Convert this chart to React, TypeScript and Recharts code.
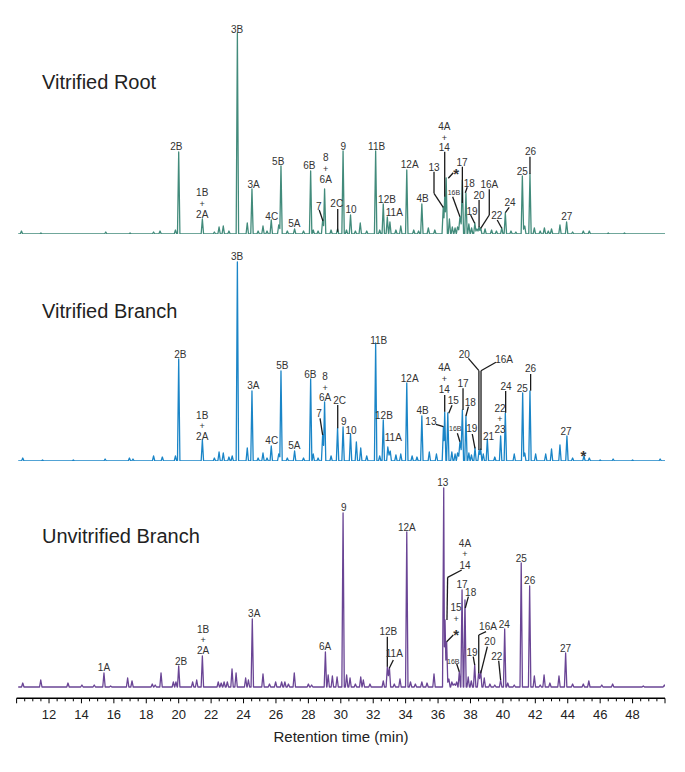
import React from 'react';
import { LineChart, Line, XAxis, YAxis, ReferenceLine, ReferenceDot } from 'recharts';

const W = 685;
const FONT = '"Liberation Sans", Arial, Helvetica, sans-serif';

// ---------- Vitrified Root ----------
const rootTimes = [10.3, 11.5, 15.5, 17.0, 18.45, 18.85, 19.8, 20.0, 21.46, 22.2, 22.49, 22.75, 23.1, 23.62, 24.23, 24.52, 24.9, 25.2, 25.45, 25.71, 26.17, 26.31, 26.7, 27.15, 27.7, 28.14, 28.3, 28.6, 28.88, 29.0, 29.4, 29.8, 30.14, 30.35, 30.6, 30.9, 31.2, 31.6, 32.15, 32.4, 32.62, 32.87, 33.03, 33.4, 33.7, 34.07, 34.5, 34.8, 35.0, 35.4, 35.8, 36.32, 36.41, 36.5, 36.7, 36.88, 37.05, 37.2, 37.35, 37.5, 37.72, 37.9, 38.07, 38.27, 38.4, 38.53, 38.63, 38.9, 39.3, 39.6, 39.93, 40.15, 40.5, 40.8, 41.2, 41.35, 41.67, 41.94, 42.3, 42.56, 42.8, 43.0, 43.52, 43.93, 44.3, 44.96, 45.33, 46.5, 47.5];
const rootHeights = [3, 1, 2, 1, 2, 3, 4, 82, 15, 2, 7, 8, 3, 201, 11, 45, 3, 8, 3, 14, 9, 68, 3, 5, 3, 63, 4, 3, 14, 45, 4, 5, 83, 4, 19, 3, 11, 3, 83, 4, 30, 17, 12, 4, 8, 64, 4, 3, 30, 6, 4, 27, 37, 56, 15, 7, 6, 7, 17, 54, 41, 10, 6, 11, 5, 7, 6, 5, 4, 3, 6, 21, 3, 2, 58, 8, 60, 6, 3, 6, 3, 5, 9, 12, 2, 3, 3, 1, 1];

// ---------- Vitrified Branch ----------
const vbTimes = [10.38, 11.6, 13.5, 15.46, 16.96, 17.18, 18.45, 18.99, 19.8, 20.0, 21.46, 22.2, 22.49, 22.75, 23.1, 23.3, 23.62, 24.23, 24.52, 24.9, 25.2, 25.45, 25.71, 26.17, 26.31, 26.7, 27.15, 27.7, 28.14, 28.3, 28.6, 28.88, 29.0, 29.4, 29.8, 30.14, 30.6, 30.96, 31.23, 31.6, 32.15, 32.4, 32.62, 32.9, 33.05, 33.4, 33.7, 34.07, 34.4, 34.7, 35.0, 35.46, 35.9, 36.33, 36.41, 36.6, 36.85, 37.05, 37.2, 37.35, 37.5, 37.72, 37.9, 38.06, 38.28, 38.53, 38.63, 38.79, 39.04, 39.5, 39.86, 40.15, 40.7, 41.22, 41.35, 41.67, 42.02, 42.64, 43.0, 43.52, 43.95, 44.3, 45.0, 45.33, 46.0, 46.8, 48.0, 49.7];
const vbHeights = [3, 1, 1, 2, 3, 2, 5, 4, 5, 102, 21, 3, 9, 8, 4, 5, 199, 13, 70, 3, 8, 3, 15, 7, 90, 3, 10, 3, 82, 7, 3, 26, 59, 5, 33, 34, 27, 19, 13, 5, 118, 5, 41, 14, 10, 6, 7, 78, 5, 4, 45, 9, 7, 34, 49, 48, 9, 7, 8, 19, 51, 45, 8, 6, 13, 11, 12, 7, 22, 4, 25, 48, 7, 68, 8, 70, 7, 7, 12, 16, 25, 3, 5, 3, 1, 2, 1, 2];

// ---------- Unvitrified Branch ----------
const ubTimes = [10.38, 11.49, 13.17, 14.03, 14.79, 15.39, 15.8, 16.85, 17.12, 18.37, 18.55, 18.91, 19.67, 19.83, 20.0, 20.86, 21.11, 21.46, 22.44, 22.62, 22.8, 23.0, 23.29, 23.54, 24.13, 24.3, 24.54, 25.2, 25.6, 25.98, 26.35, 26.55, 26.77, 27.13, 28.0, 28.2, 29.05, 29.22, 29.48, 29.77, 30.14, 30.36, 30.57, 30.9, 31.23, 31.39, 31.8, 32.62, 32.87, 33.0, 33.3, 33.65, 34.07, 34.3, 34.6, 35.0, 35.32, 35.75, 36.35, 36.43, 36.53, 36.67, 36.85, 37.0, 37.15, 37.31, 37.48, 37.66, 37.86, 38.05, 38.26, 38.5, 38.63, 38.85, 39.2, 39.5, 39.86, 40.11, 40.3, 40.7, 41.13, 41.65, 41.94, 42.3, 42.54, 42.9, 43.46, 43.87, 44.3, 44.96, 45.3, 46.1, 46.77, 48.66, 49.96];
const ubHeights = [4, 7, 4, 2, 2, 14, 1, 9, 6, 3, 2, 14, 5, 5, 21, 5, 7, 31, 5, 4, 5, 5, 18, 14, 9, 7, 68, 13, 3, 5, 5, 5, 3, 14, 3, 2, 35, 12, 11, 10, 174, 12, 9, 3, 10, 7, 3, 6, 20, 19, 3, 8, 155, 5, 3, 5, 4, 13, 199, 67, 45, 8, 5, 3, 5, 15, 97, 87, 10, 6, 22, 14, 16, 9, 3, 2, 7, 58, 4, 2, 124, 101, 11, 2, 12, 4, 11, 34, 3, 3, 6, 2, 3, 1, 2];

// ---------- axis ----------
const axisLabels = [12, 14, 16, 18, 20, 22, 24, 26, 28, 30, 32, 34, 36, 38, 40, 42, 44, 46, 48];
const TRACE_START = 10.1;
const TRACE_END = 50.0;

// ---------- annotations (label text, retention time, height) ----------
type Lab = [string, number, number];
type Lead = [number, number][];

const rootLabels: Lab[] = [
  ['2B', 19.85, 88], ['1B', 21.45, 41.3], ['+', 21.45, 30.7], ['2A', 21.45, 19.7], ['3B', 23.6, 204.7],
  ['3A', 24.62, 49.7], ['4C', 25.74, 17.3], ['5B', 26.14, 73], ['5A', 27.13, 10.7], ['6B', 28.06, 68.7],
  ['8', 29.07, 76.7], ['+', 29.07, 65.7], ['6A', 29.07, 55], ['7', 28.64, 28], ['2C', 29.75, 30.7],
  ['9', 30.15, 87.3], ['10', 30.63, 25], ['11B', 32.21, 88], ['12B', 32.85, 34.7], ['11A', 33.3, 21.3],
  ['12A', 34.25, 69.7], ['4B', 35.05, 35.3], ['13', 35.75, 67], ['4A', 36.39, 107.3], ['+', 36.39, 96.7],
  ['14', 36.39, 86.3], ['*', 37.11, 64], ['16B', 36.98, 41.7], ['17', 37.48, 71.3], ['18', 37.93, 50.7],
  ['19', 38.09, 23], ['20', 38.53, 39], ['16A', 39.16, 49.7], ['22', 39.62, 19], ['24', 40.44, 31.3],
  ['25', 41.2, 62.3], ['26', 41.71, 82.3], ['27', 43.94, 17.3],
];
const rootLeaders: Lead[] = [
  [[28.67, 24], [28.9, 13]], [[29.81, 25], [29.81, 2.3]], [[35.75, 62.3], [35.75, 40.7], [36.32, 26.7]],
  [[36.41, 82.3], [36.41, 37.3]], [[36.94, 61.3], [36.63, 55.7]], [[36.9, 37.3], [37.35, 17.3]],
  [[37.5, 67.3], [37.5, 31]], [[37.8, 46.7], [37.68, 41.3]], [[38.01, 19], [38.26, 10.7]],
  [[38.53, 34], [38.53, 6.7]], [[39.16, 44.7], [39.16, 19], [38.63, 5.7]], [[39.65, 14], [39.93, 5.7]],
  [[40.39, 26.7], [40.15, 21.3]], [[41.67, 77.3], [41.67, 60]],
];

const vbLabels: Lab[] = [
  ['3B', 23.6, 205], ['2B', 20.1, 106.7], ['1B', 21.45, 45.7], ['+', 21.45, 35], ['2A', 21.45, 24.3],
  ['3A', 24.6, 75.3], ['4C', 25.74, 21], ['5B', 26.39, 95.7], ['5A', 27.13, 16], ['6B', 28.12, 87],
  ['8', 29.03, 84.3], ['+', 29.03, 73.7], ['6A', 29.03, 63.3], ['7', 28.66, 47.7], ['2C', 29.93, 61],
  ['9', 30.18, 39.3], ['10', 30.63, 31], ['11B', 32.34, 121], ['12B', 32.66, 45.3], ['11A', 33.24, 23.7],
  ['12A', 34.25, 82.7], ['4B', 35.05, 50.3], ['4A', 36.39, 93.7], ['+', 36.39, 82.7], ['14', 36.39, 71.7],
  ['15', 36.94, 60.3], ['13', 35.56, 39.3], ['16B', 37.06, 32.3], ['17', 37.54, 77.7], ['18', 37.99, 59],
  ['19', 38.08, 32.3], ['20', 37.62, 107], ['16A', 40.07, 101.7], ['21', 39.12, 25], ['22', 39.82, 52.7],
  ['+', 39.82, 42], ['23', 39.82, 31.7], ['24', 40.19, 75], ['25', 41.2, 72.7], ['26', 41.71, 92.3],
  ['27', 43.89, 29.7], ['*', 44.96, 9.3],
];
const vbLeaders: Lead[] = [
  [[28.72, 42.7], [28.88, 26]], [[29.81, 56], [29.81, 32.7]], [[36.41, 66], [36.41, 49.3]],
  [[36.86, 55.7], [36.66, 47.7]], [[35.87, 36.7], [36.33, 34.3]], [[37.19, 27.7], [37.35, 19.3]],
  [[37.54, 72.7], [37.54, 51]], [[37.87, 54.3], [37.72, 45]], [[38.11, 27], [38.28, 12.7]],
  [[37.87, 102.7], [38.52, 90.3], [38.52, 11]], [[39.57, 98.7], [38.65, 90.3], [38.65, 11]],
  [[40.17, 70], [40.17, 48.3]], [[41.71, 87], [41.71, 70.3]],
];

const ubLabels: Lab[] = [
  ['1A', 15.39, 19.3], ['2B', 20.15, 26], ['1B', 21.5, 57.7], ['+', 21.5, 47], ['2A', 21.5, 36.3],
  ['3A', 24.66, 73.7], ['6A', 29.03, 40.3], ['9', 30.18, 179.7], ['12A', 34.07, 159.7], ['13', 36.29, 204.7],
  ['12B', 32.93, 55.3], ['11A', 33.3, 33.7], ['4A', 37.66, 143.7], ['+', 37.66, 133], ['14', 37.66, 121.3],
  ['15', 37.11, 79.7], ['+', 37.11, 68.7], ['*', 37.11, 56.3], ['16B', 36.94, 25.7], ['17', 37.48, 103],
  ['18', 38.01, 94.7], ['19', 38.09, 34.3], ['16A', 39.08, 61], ['20', 39.2, 45.7], ['22', 39.62, 31],
  ['24', 40.09, 63], ['25', 41.14, 128.3], ['26', 41.65, 106.7], ['27', 43.87, 38.3],
];
const ubLeaders: Lead[] = [
  [[32.87, 50.3], [32.87, 20.3]], [[33.24, 27], [32.99, 18.7]], [[37.46, 117], [36.59, 109.7], [36.55, 67]],
  [[36.94, 52], [36.53, 45.3]], [[37.15, 23], [37.31, 15.3]], [[37.87, 90.3], [37.68, 79]],
  [[38.17, 30.3], [38.26, 22]], [[38.96, 55.3], [38.51, 52], [38.51, 13.7]], [[39.04, 40.3], [38.63, 13.7]],
  [[39.74, 26.3], [39.86, 7]],
];

type Pt = { t: number; v: number };
function buildTrace(times: number[], heights: number[]): Pt[] {
  const w = 0.075;
  const pts: Pt[] = [{ t: TRACE_START, v: 0 }];
  for (let i = 0; i < times.length; i++) {
    const t = times[i];
    const h = heights[i];
    if (i > 0 && t - times[i - 1] < 2 * w) {
      pts.push({ t: (times[i - 1] + t) / 2, v: 0.6 * Math.min(heights[i - 1], h) });
    } else {
      pts.push({ t: t - w, v: 0 });
    }
    pts.push({ t, v: h });
    const nextT = i < times.length - 1 ? times[i + 1] : Infinity;
    if (nextT - t >= 2 * w) pts.push({ t: t + w, v: 0 });
  }
  pts.push({ t: TRACE_END, v: 0 });
  return pts;
}

const allTicks: number[] = [];
for (let k = 0; k <= 80; k++) allTicks.push(10 + k * 0.5);

const AxisTick = (props: any) => {
  const { x, y, payload } = props;
  const v = payload.value;
  const major = Math.abs(v - Math.round(v)) < 1e-6 && Math.round(v) % 2 === 0;
  const labeled = axisLabels.includes(v);
  return (
    <g>
      <line x1={x} x2={x} y1={y} y2={y + (major ? 5 : 3)} stroke="#000" strokeWidth={1} />
      {labeled && (
        <text x={x} y={y + 20.5} textAnchor="middle" fontSize={13} fontFamily={FONT} fill="#222">
          {v}
        </text>
      )}
    </g>
  );
};

const labelShape = (text: string) => (p: any) => {
  const star = text === '*';
  const size = star ? 15 : text === '16B' ? 7 : text === '+' ? 9 : 10;
  return (
    <text
      x={p.cx}
      y={p.cy}
      dy={star ? '0.62em' : '0.36em'}
      textAnchor="middle"
      fontSize={size}
      fontWeight={star ? 'bold' : 'normal'}
      fontFamily={FONT}
      fill="#333"
    >
      {text}
    </text>
  );
};

type PanelProps = {
  times: number[];
  heights: number[];
  color: string;
  top: number;
  height: number;
  domain: [number, number];
  labels: Lab[];
  leaders: Lead[];
  showAxis?: boolean;
};

function Panel({ times, heights, color, top, height, domain, labels, leaders, showAxis }: PanelProps) {
  const data = buildTrace(times, heights);
  const segs: { a: [number, number]; b: [number, number] }[] = [];
  leaders.forEach((pl) => {
    for (let i = 0; i < pl.length - 1; i++) segs.push({ a: pl[i], b: pl[i + 1] });
  });
  return (
    <div style={{ position: 'absolute', left: 0, top, width: W, height }}>
      <LineChart
        width={W}
        height={height}
        data={data}
        margin={{ top: 0, right: 20, bottom: showAxis ? 13.7 : 6, left: 16.6 }}
      >
        <XAxis
          dataKey="t"
          type="number"
          domain={[10, 50]}
          allowDataOverflow
          hide={!showAxis}
          ticks={allTicks}
          interval={0}
          tick={<AxisTick />}
          tickLine={false}
          tickSize={0}
          tickMargin={0}
          axisLine={{ stroke: '#000', strokeWidth: 1.5 }}
          height={60}
        />
        <YAxis type="number" domain={domain} hide allowDataOverflow />
        <Line
          dataKey="v"
          type="linear"
          stroke={color}
          strokeWidth={1.3}
          strokeLinejoin="round"
          dot={false}
          activeDot={false}
          isAnimationActive={false}
        />
        {segs.map((s, i) => (
          <ReferenceLine
            key={'l' + i}
            segment={[{ x: s.a[0], y: s.a[1] }, { x: s.b[0], y: s.b[1] }]}
            stroke="#1a1a1a"
            strokeWidth={1.3}
            ifOverflow="visible"
          />
        ))}
        {labels.map((l, i) => (
          <ReferenceDot
            key={'d' + i}
            x={l[1]}
            y={l[2]}
            r={1}
            ifOverflow="visible"
            shape={labelShape(l[0])}
          />
        ))}
      </LineChart>
    </div>
  );
}

export default function App() {
  return (
    <div style={{ position: 'absolute', left: 0, top: 0, width: W, height: 772, background: '#fff' }}>
      <Panel
        times={rootTimes}
        heights={rootHeights}
        color="#428b7b"
        top={0}
        height={240}
        domain={[0, 234]}
        labels={rootLabels}
        leaders={rootLeaders}
      />
      <Panel
        times={vbTimes}
        heights={vbHeights}
        color="#1a85c7"
        top={240}
        height={227}
        domain={[0, 221]}
        labels={vbLabels}
        leaders={vbLeaders}
      />
      <Panel
        times={ubTimes}
        heights={ubHeights}
        color="#6a4595"
        top={467}
        height={305}
        domain={[-11.3, 220]}
        labels={ubLabels}
        leaders={ubLeaders}
        showAxis
      />
      <svg
        width={W}
        height={772}
        style={{ position: 'absolute', left: 0, top: 0, pointerEvents: 'none' }}
      >
        <g fontFamily={FONT} fill="#222">
          <text x={42} y={89} fontSize={20}>Vitrified Root</text>
          <text x={42} y={318} fontSize={20}>Vitrified Branch</text>
          <text x={42} y={543} fontSize={20}>Unvitrified Branch</text>
          <text x={341} y={742} fontSize={15} textAnchor="middle">Retention time (min)</text>
        </g>
      </svg>
    </div>
  );
}
